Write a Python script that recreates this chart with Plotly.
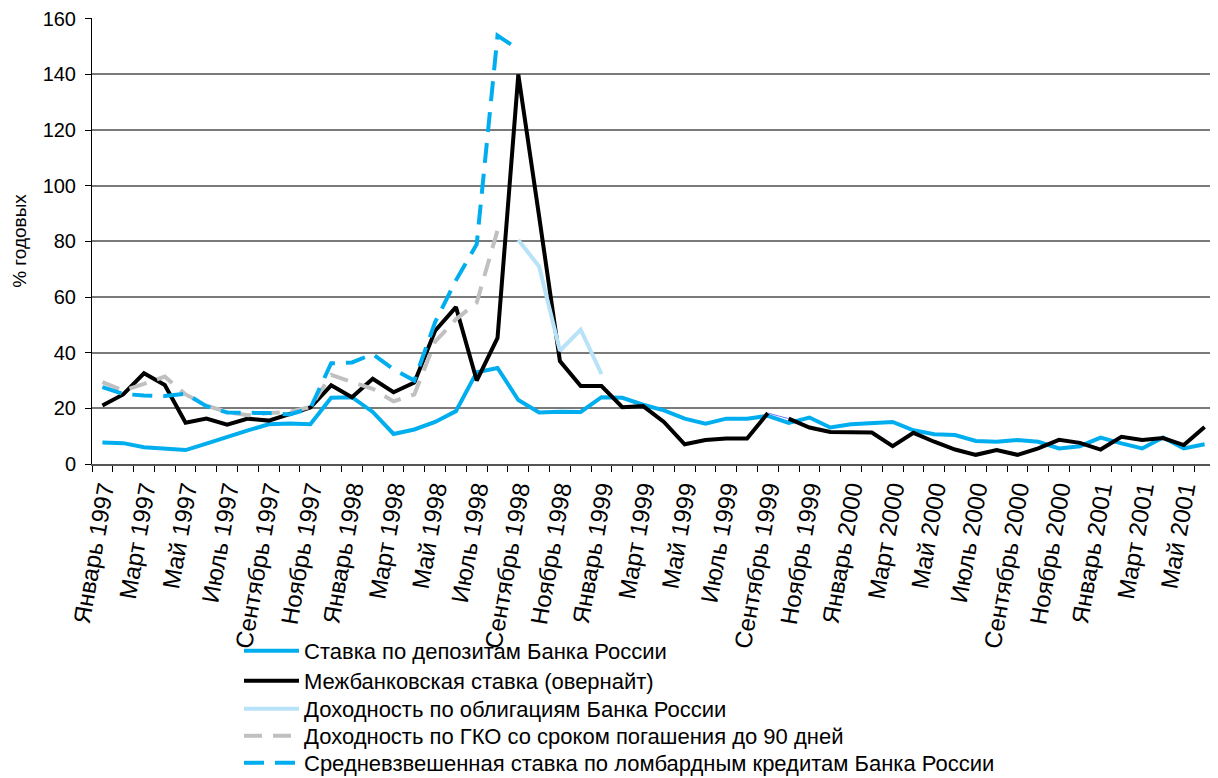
import plotly.graph_objects as go

# ---- data -------------------------------------------------------------
months = ["Январь", "Февраль", "Март", "Апрель", "Май", "Июнь", "Июль",
          "Август", "Сентябрь", "Октябрь", "Ноябрь", "Декабрь"]
years = [1997, 1998, 1999, 2000, 2001]
n_months = 54  # Январь 1997 .. Июнь 2001
categories = [f"{months[i % 12]} {years[i // 12]}" for i in range(n_months)]
tick_labels = categories[::2]

deposit_rate = [7.7, 7.5, 6.0, 5.6, 5.0, 7.3, 9.8, 12.1, 14.3, 14.6, 14.3, 23.8,
                24.0, 18.7, 10.8, 12.4, 15.1, 19.0, 33.0, 34.5, 23.0, 18.5, 18.8, 18.7,
                24.0, 23.8, 21.3, 19.3, 16.3, 14.5, 16.3, 16.3, 17.3, 14.8, 16.7, 13.1,
                14.3, 14.6, 15.1, 12.1, 10.7, 10.4, 8.3, 8.0, 8.6, 8.0, 5.6, 6.4,
                9.5, 7.4, 5.6, 9.5, 5.6, 7.1]

interbank_rate = [21.0, 25.0, 32.6, 28.4, 14.8, 16.3, 14.1, 16.3, 15.6, 17.8, 20.3, 28.3,
                  24.0, 30.6, 25.8, 29.3, 47.9, 56.4, 30.0, 45.3, 140.0, 89.0, 37.0, 28.0,
                  28.0, 20.4, 20.8, 15.1, 7.1, 8.6, 9.2, 9.2, 18.3, 16.3, 13.1, 11.5,
                  11.5, 11.3, 6.4, 11.2, 8.0, 5.2, 3.3, 5.0, 3.3, 5.6, 8.7, 7.6,
                  5.2, 9.8, 8.6, 9.3, 6.8, 13.3]

bond_yield = [None] * 20 + [80.5, 71.0, 40.7, 48.3, 32.3] + [None] * 29

gko_yield = [29.4, 26.4, 28.8, 31.4, 25.0, 21.0, 18.7, 17.5, 18.3, 18.7, 20.5, 32.0,
             29.5, 27.0, 22.5, 25.0, 44.0, 52.0, 58.0, 84.0] + [None] * 34

lombard_rate = [27.6, 25.2, 24.6, 24.4, 25.3, 20.8, 18.5, 18.5, 18.3, 17.8, 20.0, 36.2,
                36.5, 39.5, 34.0, 30.0, 51.0, 66.0, 79.0, 154.0, 149.0] + [None] * 33

names = ["Ставка по депозитам Банка России",
         "Межбанковская ставка (овернайт)",
         "Доходность по облигациям Банка России",
         "Доходность по ГКО со сроком погашения до 90 дней",
         "Средневзвешенная ставка по ломбардным кредитам Банка России"]

y_title = "% годовых"

# ---- figure -----------------------------------------------------------
x = list(range(n_months))
split = 33  # the overnight line is broken between these two months

FONT = "Liberation Sans, Arial, Helvetica, sans-serif"
fig = go.Figure()

fig.add_trace(go.Scatter(x=x, y=deposit_rate, name=names[0], mode="lines",
                         legend="legend",
                         line=dict(color="#00aeef", width=4)))
fig.add_trace(go.Scatter(x=x[:split], y=interbank_rate[:split], name=names[1],
                         mode="lines", legend="legend2",
                         line=dict(color="#000000", width=4)))
fig.add_trace(go.Scatter(x=x[split - 1:split + 1], y=interbank_rate[split - 1:split + 1],
                         mode="lines", showlegend=False, hoverinfo="skip",
                         line=dict(color="#7878ff", width=1)))
fig.add_trace(go.Scatter(x=x[split:], y=interbank_rate[split:], name=names[1],
                         mode="lines", showlegend=False,
                         line=dict(color="#000000", width=4)))
fig.add_trace(go.Scatter(x=x, y=bond_yield, name=names[2], mode="lines",
                         legend="legend3",
                         line=dict(color="#b8e2f8", width=4)))
fig.add_trace(go.Scatter(x=x, y=gko_yield, name=names[3], mode="lines",
                         legend="legend4",
                         line=dict(color="#c0c0c0", width=4, dash="18px,11px")))
fig.add_trace(go.Scatter(x=x, y=lombard_rate, name=names[4], mode="lines",
                         legend="legend5",
                         line=dict(color="#00aeef", width=4, dash="20px,11px")))

# the page adds an 8 px body margin, so the figure is 8 px smaller
W, H = 1210, 770
ML, MR, MT, MB = 84, 3, 10, 314
plot_h = H - MT - MB

legend_rows = [643, 673, 701, 728, 755]  # row centres, figure pixels
legend_x = (231 - ML) / (W - ML - MR)

def legend_style(row_px):
    return dict(x=legend_x, xanchor="left",
                y=(H - MB - row_px) / plot_h, yanchor="middle",
                orientation="v", font=dict(size=22, family=FONT),
                itemwidth=55, bgcolor="rgba(0,0,0,0)")

fig.update_layout(
    width=W, height=H,
    margin=dict(l=ML, r=MR, t=MT, b=MB, autoexpand=False),
    paper_bgcolor="white", plot_bgcolor="white",
    font=dict(family=FONT, size=20, color="black"),
    showlegend=True,
    legend=legend_style(legend_rows[0]),
    legend2=legend_style(legend_rows[1]),
    legend3=legend_style(legend_rows[2]),
    legend4=legend_style(legend_rows[3]),
    legend5=legend_style(legend_rows[4]),
)

fig.update_xaxes(
    range=[-0.5, n_months - 0.5], automargin=False,
    tickmode="array", tickvals=x[::2], ticktext=tick_labels,
    tickangle=-80, ticks="", showgrid=False, zeroline=False,
    showline=True, linecolor="#555555", linewidth=1.5,
    tickfont=dict(size=24, family=FONT), ticklabeloverflow="allow",
    minor=dict(tickmode="array", tickvals=[v - 0.5 for v in range(n_months + 1)],
               ticks="outside", ticklen=6, tickcolor="#000000", tickwidth=1,
               showgrid=False),
)

fig.update_yaxes(
    range=[0, 160.3], tickmode="array", tickvals=[0, 20, 40, 60, 80, 100, 120, 140, 160],
    automargin=False,
    showgrid=True, gridcolor="#7a7a7a", gridwidth=1.5,
    zeroline=False, showline=True, linecolor="#000000", linewidth=1,
    ticks="outside", ticklen=6, tickcolor="#000000", ticklabelstandoff=5,
    ticklabeloverflow="allow",
    tickfont=dict(size=20, family=FONT),
    title=dict(text=y_title, font=dict(size=19, family=FONT), standoff=10),
)

fig.write_html("out.html")
